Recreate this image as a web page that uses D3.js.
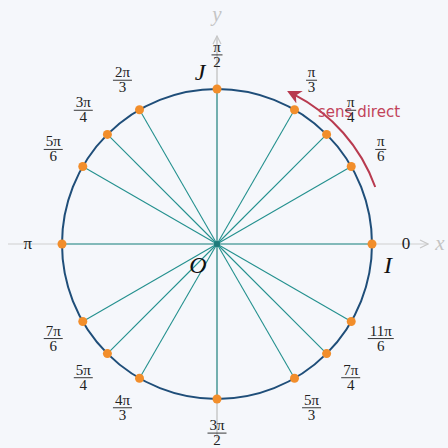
<!DOCTYPE html>
<html>
<head>
<meta charset="utf-8">
<script src="https://cdn.jsdelivr.net/npm/d3@7"></script>
<style>
  body { margin: 0; background: #f5f7fb; }
  svg { display: block; }
</style>
</head>
<body>
<svg width="448" height="448"></svg>
<script>
// angles of the remarkable points, in multiples of pi
var angles = [0, 1/6, 1/4, 1/3, 1/2, 2/3, 3/4, 5/6, 1, 7/6, 5/4, 4/3, 3/2, 5/3, 7/4, 11/6];
// label of each angle: numerator / denominator ("" = no fraction)
var numLabels = ["0", "π", "π", "π", "π", "2π", "3π", "5π", "π", "7π", "5π", "4π", "3π", "5π", "7π", "11π"];
var denLabels = ["", "6", "4", "3", "2", "3", "4", "6", "", "6", "4", "3", "2", "3", "4", "6"];
// arrow of the direct sense, from/to (multiples of pi)
var arrowAngles = [0.11, 0.35];

var svg = d3.select("svg"),
    width = +svg.attr("width"),
    height = +svg.attr("height");

var cx = 217, cy = 244, R = 155;

// unit scales
var x = d3.scaleLinear().domain([-1, 1]).range([cx - R, cx + R]);
var y = d3.scaleLinear().domain([-1, 1]).range([cy + R, cy - R]);

var defs = svg.append("defs");
defs.append("marker")
    .attr("id", "axArrow")
    .attr("viewBox", "0 0 10 10")
    .attr("refX", 9).attr("refY", 5)
    .attr("markerWidth", 10).attr("markerHeight", 10)
    .attr("markerUnits", "userSpaceOnUse")
    .attr("orient", "auto")
    .append("path")
    .attr("d", "M1,1 L9,5 L1,9")
    .attr("fill", "none")
    .attr("stroke", "#c8c8c8")
    .attr("stroke-width", 1.2);

defs.append("marker")
    .attr("id", "redArrow")
    .attr("viewBox", "0 0 10 10")
    .attr("refX", 5).attr("refY", 5)
    .attr("markerWidth", 14).attr("markerHeight", 14)
    .attr("markerUnits", "userSpaceOnUse")
    .attr("orient", "auto")
    .append("path")
    .attr("d", "M0,0 L10,5 L0,10 L3,5 Z")
    .attr("fill", "#b83a4f");

// axes
svg.append("line")
    .attr("x1", 8).attr("y1", cy).attr("x2", 428).attr("y2", cy)
    .attr("stroke", "#cfcfcf").attr("stroke-width", 1.2)
    .attr("marker-end", "url(#axArrow)");
svg.append("line")
    .attr("x1", cx).attr("y1", 438).attr("x2", cx).attr("y2", 36)
    .attr("stroke", "#bdbdbd").attr("stroke-width", 1.2)
    .attr("marker-end", "url(#axArrow)");

svg.append("text")
    .attr("x", 440).attr("y", 250)
    .attr("text-anchor", "middle")
    .style("font", "italic 21px 'Liberation Serif', serif")
    .attr("fill", "#c4c4c4")
    .text("x");
svg.append("text")
    .attr("x", cx).attr("y", 21)
    .attr("text-anchor", "middle")
    .style("font", "italic 21px 'Liberation Serif', serif")
    .attr("fill", "#c4c4c4")
    .text("y");

// rays (drawn from the point towards the centre)
svg.selectAll(".ray")
    .data(angles)
    .enter().append("line")
    .attr("class", "ray")
    .attr("x1", function(d) { return x(Math.cos(d * Math.PI)); })
    .attr("y1", function(d) { return y(Math.sin(d * Math.PI)); })
    .attr("x2", x(0)).attr("y2", y(0))
    .attr("stroke", "#23908e")
    .attr("stroke-width", 1.1);

// circle
svg.append("circle")
    .attr("cx", x(0)).attr("cy", y(0))
    .attr("r", x(1) - x(0))
    .attr("fill", "none")
    .attr("stroke", "#1f4e79")
    .attr("stroke-width", 2);

svg.append("circle")
    .attr("cx", x(0)).attr("cy", y(0))
    .attr("r", 3)
    .attr("fill", "#1f7a7a");

// points
svg.selectAll(".pt")
    .data(angles)
    .enter().append("circle")
    .attr("class", "pt")
    .attr("cx", function(d) { return x(Math.cos(d * Math.PI)); })
    .attr("cy", function(d) { return y(Math.sin(d * Math.PI)); })
    .attr("r", 4.5)
    .attr("fill", "#f28e2b");

// direct sense arrow
svg.append("path")
    .attr("transform", "translate(" + cx + "," + cy + ")")
    .attr("d", function() {
        var r = R * 1.085, a0 = arrowAngles[0] * Math.PI, a1 = arrowAngles[1] * Math.PI;
        return "M" + r * Math.cos(a0) + "," + (-r * Math.sin(a0)) +
            "A" + r + "," + r + " 0 0,0 " + r * Math.cos(a1) + "," + (-r * Math.sin(a1));
    })
    .attr("fill", "none")
    .attr("stroke", "#b83a4f")
    .attr("stroke-width", 2)
    .attr("marker-end", "url(#redArrow)");

svg.append("text")
    .attr("x", 318).attr("y", 117)
    .style("font", "15px 'DejaVu Sans', sans-serif")
    .attr("fill", "#c2435a")
    .text("sens direct");

// angle labels
var lab = svg.selectAll(".lab")
    .data(angles)
    .enter().append("g")
    .attr("class", "lab")
    .attr("transform", function(d) {
        var r = R * 1.22;
        return "translate(" + (cx + r * Math.cos(d * Math.PI)) + "," + (cy - r * Math.sin(d * Math.PI)) + ")";
    });

lab.each(function(d, i) {
    var g = d3.select(this);
    var font = "15px 'Liberation Serif', serif";
    if (denLabels[i] === "") {
        g.append("text")
            .attr("y", 5)
            .attr("text-anchor", "middle")
            .style("font", "17px 'Liberation Serif', serif")
            .attr("fill", "#222")
            .text(numLabels[i]);
    } else {
        var w = numLabels[i].length > 2 ? 26 : (numLabels[i].length > 1 ? 19 : 11);
        g.append("text")
            .attr("y", -3)
            .attr("text-anchor", "middle")
            .style("font", font)
            .attr("fill", "#222")
            .text(numLabels[i]);
        g.append("line")
            .attr("x1", -w / 2).attr("x2", w / 2)
            .attr("y1", 0).attr("y2", 0)
            .attr("stroke", "#222").attr("stroke-width", 0.9);
        g.append("text")
            .attr("y", 12)
            .attr("text-anchor", "middle")
            .style("font", font)
            .attr("fill", "#222")
            .text(denLabels[i]);
    }
});

// point names
var names = [["I", x(1) + 16, y(0) + 29], ["J", x(0) - 17, y(1) - 9], ["O", x(0) - 19, y(0) + 29]];
svg.selectAll(".name")
    .data(names)
    .enter().append("text")
    .attr("class", "name")
    .attr("x", function(d) { return d[1]; })
    .attr("y", function(d) { return d[2]; })
    .attr("text-anchor", "middle")
    .style("font", "italic 24px 'Liberation Serif', serif")
    .attr("fill", "#111")
    .text(function(d) { return d[0]; });
</script>
</body>
</html>
